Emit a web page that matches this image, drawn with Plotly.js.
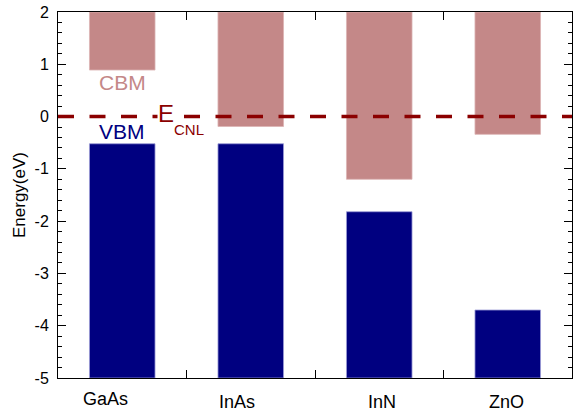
<!DOCTYPE html>
<html>
<head>
<meta charset="utf-8">
<script src="https://cdn.plot.ly/plotly-3.0.1.min.js"></script>
<style>html,body{margin:0;padding:0;background:#fff;}#chart{width:573px;height:414px;}</style>
</head>
<body>
<div id="chart"></div>
<script>
var categories = ["GaAs", "InAs", "InN", "ZnO"];
var cbm = [0.89, -0.19, -1.20, -0.34];
var vbm = [-0.52, -0.52, -1.82, -3.70];
var yTickVals = [-5, -4, -3, -2, -1, 0, 1, 2];
var yTickText = ["-5", "-4", "-3", "-2", "-1", "0", "1", "2"];
var yTop = 2;
var yBottom = -5;

// small horizontal/vertical offsets of the category labels, as in the original figure
var labelShiftX = [-17, -14, 3, -1];
var labelShiftY = [-9, -12, -12, -12];

var font = "Liberation Sans, Arial, Helvetica, sans-serif";

var cbmTrace = {
  type: "bar",
  x: categories,
  base: cbm,
  y: cbm.map(function (v) { return yTop - v; }),
  width: 0.51,
  marker: { color: "#c48888", line: { color: "#dcb4b4", width: 0.8 } },
  hoverinfo: "skip",
  showlegend: false
};
var vbmTrace = {
  type: "bar",
  x: categories,
  base: vbm.map(function () { return yBottom; }),
  y: vbm.map(function (v) { return v - yBottom; }),
  width: 0.51,
  marker: { color: "#000080", line: { color: "#9a9ad6", width: 0.8 } },
  hoverinfo: "skip",
  showlegend: false
};
// invisible trace to activate the right-hand mirror axis
var mirrorTrace = {
  type: "scatter", mode: "none", x: [categories[0]], y: [0], yaxis: "y2",
  hoverinfo: "skip", showlegend: false
};

var yCommon = {
  range: [yBottom, yTop],
  tickmode: "array",
  tickvals: yTickVals,
  ticktext: yTickText,
  ticks: "inside",
  ticklen: 8,
  tickwidth: 1,
  tickcolor: "#000",
  showline: true,
  linecolor: "#000",
  linewidth: 1,
  showgrid: false,
  zeroline: false,
  minor: { dtick: 0.2, ticks: "inside", ticklen: 4, tickwidth: 1, tickcolor: "#000", showgrid: false }
};

var annotations = [
  { text: "CBM", xref: "x", yref: "y", x: categories[0], y: 0.66, showarrow: false,
    font: { size: 21, family: font, color: "#c48888" } },
  { text: "VBM", xref: "x", yref: "y", x: categories[0], y: -0.28, showarrow: false,
    font: { size: 21, family: font, color: "#000080" } },
  { text: "E", xref: "paper", yref: "y", x: 0.192, xanchor: "left", y: 0.06, showarrow: false,
    bgcolor: "#fff", borderpad: 0,
    font: { size: 24, family: font, color: "#8b0000" } },
  { text: "CNL", xref: "paper", yref: "y", x: 0.221, xanchor: "left", y: -0.25, showarrow: false,
    font: { size: 15, family: font, color: "#8b0000" } }
];
categories.forEach(function (c, i) {
  annotations.push({
    text: c, xref: "x", yref: "paper", x: c, y: 0, yanchor: "top",
    xshift: labelShiftX[i], yshift: labelShiftY[i], showarrow: false,
    font: { size: 18, family: font, color: "#000" }
  });
});

var layout = {
  width: 573,
  height: 414,
  margin: { l: 58, r: 1, t: 12, b: 36 },
  paper_bgcolor: "#fff",
  plot_bgcolor: "#fff",
  barmode: "overlay",
  font: { family: font, color: "#000" },
  xaxis: {
    type: "category",
    range: [-0.5, 3.5],
    tickson: "boundaries",
    ticks: "inside",
    ticklen: 8,
    tickwidth: 1,
    tickcolor: "#000",
    showline: true,
    linecolor: "#000",
    linewidth: 1,
    mirror: "ticks",
    showgrid: false,
    zeroline: false,
    showticklabels: false
  },
  yaxis: Object.assign({}, yCommon, {
    tickfont: { size: 16, family: font, color: "#000" },
    ticklabelstandoff: 5,
    title: { text: "Energy(eV)", font: { size: 17, family: font, color: "#000" }, standoff: 4 }
  }),
  yaxis2: Object.assign({}, yCommon, {
    overlaying: "y",
    side: "right",
    showticklabels: false
  }),
  shapes: [{
    type: "line",
    xref: "paper", yref: "y",
    x0: 0, x1: 1, y0: 0, y1: 0,
    line: { color: "#8b0000", width: 3.5, dash: "16px,15.5px" },
    layer: "above"
  }],
  annotations: annotations
};

Plotly.newPlot("chart", [cbmTrace, vbmTrace, mirrorTrace], layout, { displayModeBar: false, staticPlot: true });
</script>
</body>
</html>
